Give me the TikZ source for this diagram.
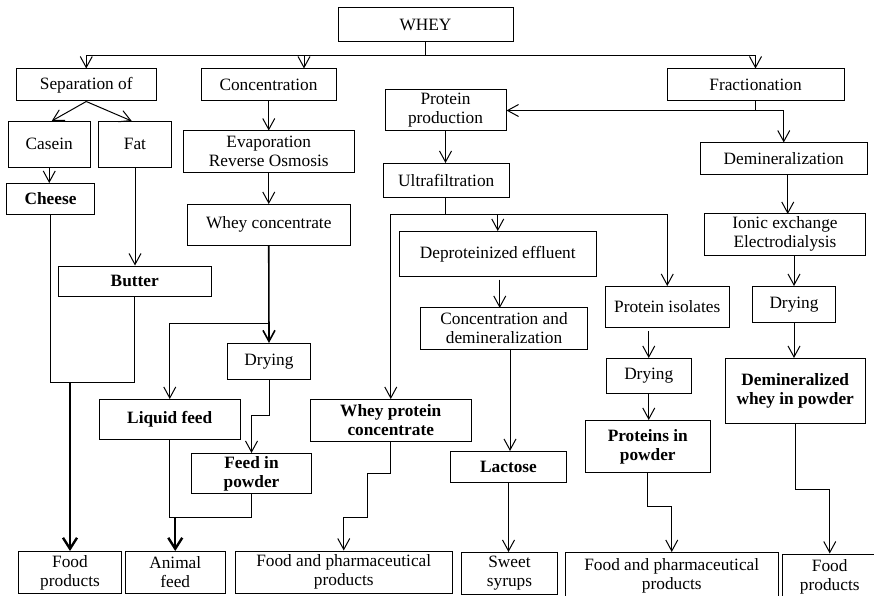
\documentclass[tikz,border=0pt]{standalone}
\usepackage{fontspec}
\setmainfont{Liberation Serif}
\usetikzlibrary{arrows.meta}

% box from its corner coordinates: style, name, x1, y1, x2, y2, text
\newcommand{\mkbox}[7]{%
  \node[#1, minimum width={(#5-#3)*1pt}, minimum height={(#6-#4)*1pt}]
    (#2) at ({(#3+#5)/2},{(#4+#6)/2}) {#7};}

\tikzset{
  box/.style={draw, line width=1pt, inner sep=0pt, align=center,
    font=\fontsize{17.3}{19}\selectfont},
  boldbox/.style={box, font=\fontsize{17.3}{19}\selectfont\bfseries},
  link/.style={line width=1pt},
  arr/.style={link, -{Straight Barb[length=11pt,width=12pt]}},
  heavy/.style={line width=2.4pt, -{Straight Barb[length=11pt,width=14pt]}},
}

\begin{document}
\begin{tikzpicture}[x=1pt,y=-1pt]
\useasboundingbox (0,0) rectangle (874,596);

% ---- boxes ----
\mkbox{box}{whey}{338}{7.5}{513}{42}{WHEY}
\mkbox{box}{sep}{16.5}{69}{156}{101}{Separation of}
\mkbox{box}{conc}{201}{69}{336}{101}{Concentration}
\mkbox{box}{frac}{667}{69}{844}{101}{Fractionation}
\mkbox{box}{prot}{385}{90}{506}{131}{Protein\\production}
\mkbox{box}{casein}{8.5}{121.5}{90}{167}{Casein}
\mkbox{box}{fat}{98.5}{121.5}{171.5}{167}{Fat}
\mkbox{box}{evap}{183.5}{131}{354}{172.5}{Evaporation\\Reverse Osmosis}
\mkbox{box}{demin}{700.5}{143}{867}{174}{Demineralization}
\mkbox{box}{ultra}{383.5}{163.5}{509}{197.5}{Ultrafiltration}
\mkbox{boldbox}{cheese}{6.5}{183.5}{94.5}{214}{Cheese}
\mkbox{box}{wconc}{187.5}{204.5}{350}{245}{Whey concentrate}
\mkbox{box}{ionic}{704.5}{213.5}{865.5}{255}{Ionic exchange\\Electrodialysis}
\mkbox{box}{deprot}{399}{231.5}{596.5}{276}{Deproteinized effluent}
\mkbox{boldbox}{butter}{58.5}{266}{211}{296.5}{Butter}
\mkbox{box}{isol}{605}{286.5}{729.5}{327.5}{Protein isolates}
\mkbox{box}{dryR}{752.5}{286.5}{835.5}{322.5}{Drying}
\mkbox{box}{cdem}{420.5}{307.5}{587.5}{349}{Concentration and\\demineralization}
\mkbox{box}{dryL}{227.5}{343.5}{310.5}{379}{Drying}
\mkbox{box}{dryM}{606.5}{358.5}{691}{393.5}{Drying}
\mkbox{boldbox}{dwp}{725}{358.5}{865.5}{423.5}{Demineralized\\whey in powder}
\mkbox{boldbox}{liquid}{99.5}{399.5}{240}{439.5}{Liquid feed}
\mkbox{boldbox}{wpc}{310}{399.5}{471.5}{441}{Whey protein\\concentrate}
\mkbox{boldbox}{prowd}{585.5}{420.5}{710}{472.5}{Proteins in\\powder}
\mkbox{boldbox}{lactose}{450.5}{451.5}{566.5}{482.5}{Lactose}
\mkbox{boldbox}{feedp}{191.5}{453.5}{311.5}{493.5}{Feed in\\powder}
\mkbox{box}{food1}{18.5}{551.5}{121.5}{593.5}{Food\\products}
\mkbox{box}{animal}{125.5}{551.5}{225}{593.5}{Animal\\feed}
\mkbox{box}{fp1}{235}{551}{452.5}{593.5}{Food and pharmaceutical\\products}
\mkbox{box}{sweet}{461.5}{552.5}{557.5}{594}{Sweet\\syrups}
\mkbox{box}{fp2}{565}{552.5}{778.5}{599}{Food and pharmaceutical\\products}
\mkbox{box}{food2}{782.5}{554}{877}{599}{Food\\products}

% ---- junction points ----
\coordinate (bus) at (425.5,55.5);
\coordinate (bc) at (304,55.5);
\coordinate (fj) at (755.5,110.5);
\coordinate (uj) at (445.5,214);
\coordinate (cb) at (134.75,382.5);
\coordinate (wb) at (268.75,323.5);
\coordinate (dk) at (269,415.5);
\coordinate (la) at (169.75,517.5);
\coordinate (w1) at (367.7,473.3);
\coordinate (w2) at (367.7,517);
\coordinate (pj) at (647.75,506);
\coordinate (dj) at (795.25,489);

% ---- WHEY to the three main routes ----
\draw[arr] (whey.south) -- (bus) -| (sep.north);
\draw[arr] (bus) -| (frac.north);
\draw[arr] (bc) -- (bc |- conc.north);

% ---- separation: cheese and butter ----
\draw[arr] (sep.south) -- ([xshift=2.5pt]casein.north);
\draw[arr] (sep.south) -- ([xshift=-3.3pt]fat.north);
\draw[arr] (casein.south) -- (casein.south |- cheese.north);
\draw[arr] (fat.south) -- (fat.south |- butter.north);
\draw[link] (cheese.south) |- (cb) -- (butter.south);
\draw[heavy] (food1.north |- cb) -- (food1.north);

% ---- concentration: whey concentrate and feeds ----
\draw[arr] (evap.north |- conc.south) -- (evap.north);
\draw[arr] (evap.south) -- (wconc.north);
\draw[arr, line width=1.6pt] (wconc.south) -- (dryL.north);
\draw[arr] (wb) -| (liquid.north);
\draw[arr] (dryL.south) -- (dk) -| (feedp.north);
\draw[link] (liquid.south) -- (la) -| (feedp.south);
\draw[heavy] (animal.north |- la) -- (animal.north);

% ---- fractionation: protein production ----
\draw[arr] (frac.south) -- (fj) -- (prot.east);
\draw[arr] (fj) -| (demin.north);
\draw[arr] (prot.south) -- (prot.south |- ultra.north);
\draw[link] (ultra.south -| uj) -- (uj);
\draw[arr] (uj) -| (wpc.north);
\draw[arr] (uj) -| (isol.north);
\draw[arr] (deprot.north |- uj) -- (deprot.north);
\draw[arr] ([xshift=2pt,yshift=-3pt]deprot.south) -- ++(0,28.5);
\draw[arr] ([xshift=1.5pt]lactose.north) ++(0,-102.5) -- ([xshift=1.5pt]lactose.north);
\draw[arr] (lactose.south) -- (lactose.south |- sweet.north);
\draw[arr] (wpc.south) |- (w1) -- (w2) -| (fp1.north);
\draw[arr] (dryM.north) ++(0,-27) -- (dryM.north);
\draw[arr] (dryM.south) -- (dryM.south |- prowd.north);
\draw[arr] (prowd.south) -- (pj) -| (fp2.north);

% ---- fractionation: demineralization ----
\draw[arr] ([xshift=4pt]demin.south) -- ++(0,39.5);
\draw[arr] (dryR.north |- ionic.south) -- (dryR.north);
\draw[arr] (dryR.south) -- (dryR.south |- dwp.north);
\draw[arr] (dwp.south) -- (dj) -| (food2.north);
\end{tikzpicture}
\end{document}
